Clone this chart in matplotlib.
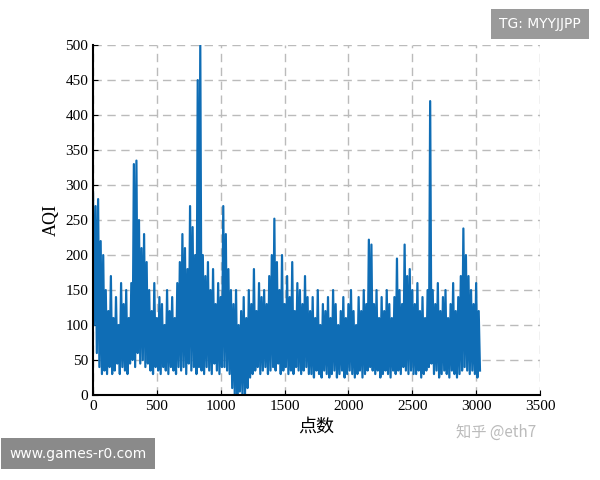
import numpy as np
import matplotlib.pyplot as plt

plt.rcParams['font.family'] = ['Liberation Serif', 'Noto Sans CJK SC']

highs = [290,270,280,220,200,150,
 120,170,110,140,100,160,130,150,110,
 160,330,335,250,210,230,190,
 150,120,160,110,140,130,100,150,120,140,110,160,
 190,230,210,180,270,240,200,
 450,500,
 200,170,190,150,180,130,160,140,
 270,230,180,150,
 130,150,100,120,140,110,150,
 130,180,120,160,140,150,130,170,
 200,252,190,
 150,200,130,170,140,190,120,160,150,130,170,140,
 120,140,110,150,100,130,120,140,110,150,130,100,120,140,110,130,150,120,100,140,120,150,130,
 222,215,
 130,150,110,140,120,150,130,110,140,
 195,150,130,215,170,180,150,
 130,160,120,140,110,150,
 420,
 150,130,160,120,140,150,110,130,160,120,140,170,
 238,200,
 170,150,130,160,120]
lows = [100,60,40,30,35,30,
 40,30,35,45,30,40,35,30,45,
 50,40,60,45,50,40,45,
 35,30,40,35,30,40,35,30,40,35,30,40,
 35,40,30,45,35,40,30,
 40,35,
 30,40,35,30,45,35,30,40,
 40,35,30,10,
 0,0,5,0,0,10,25,
 30,35,40,30,35,40,30,35,
 40,35,45,
 30,35,40,30,35,30,40,35,30,35,40,30,
 30,25,35,30,25,35,30,25,30,35,25,30,35,25,30,35,30,25,30,35,25,30,35,
 40,35,
 30,35,25,30,35,30,25,35,30,
 35,30,40,35,30,35,30,
 30,35,25,30,35,40,
 45,
 30,35,25,30,35,30,25,35,30,25,30,35,
 40,35,
 30,35,30,25,35]

n = min(len(highs), len(lows))
x = np.empty(2*n); y = np.empty(2*n)
x[0::2] = np.arange(n)*20; x[1::2] = np.arange(n)*20 + 10
y[0::2] = highs[:n]; y[1::2] = lows[:n]

fig = plt.figure(figsize=(6, 4.8), dpi=100)
ax = fig.add_axes([0.155, 0.177, 0.745, 0.729])
ax.plot(x, y, color='#0f6db5', lw=1.6)
ax.set_xlim(0, 3500); ax.set_ylim(0, 500)
ax.set_xticks(range(0, 3501, 500)); ax.set_yticks(range(0, 501, 50))
ax.grid(True, ls=(0, (6, 4)), color='#bbbbbb', lw=1)
for s in ['top', 'right']:
    ax.spines[s].set_visible(False)
for s in ['left', 'bottom']:
    ax.spines[s].set_linewidth(1.5)
ax.tick_params(direction='in', labelsize=11)
ax.set_xlabel('点数', fontsize=13)
ax.set_ylabel('AQI', fontsize=13)
fig.text(0.76, 0.09, '知乎 @eth7', fontsize=11, color='#bbbbbb', family=['Noto Sans CJK SC'])
fig.text(0.90, 0.95, 'TG: MYYJJPP', fontsize=10, color='white', ha='center', va='center',
         family=['DejaVu Sans'], bbox=dict(boxstyle='square,pad=0.6', fc='#9a9a9a', ec='none'))
fig.text(0.13, 0.055, 'www.games-r0.com', fontsize=10, color='white', ha='center', va='center',
         family=['DejaVu Sans'], bbox=dict(boxstyle='square,pad=0.6', fc='#8a8a8a', ec='none'))
fig.savefig('out.png', dpi=100)
